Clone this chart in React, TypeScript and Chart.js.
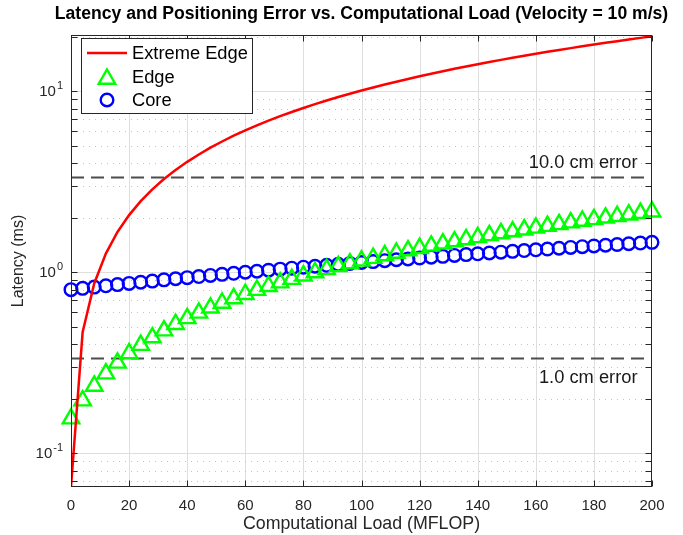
import React, { useEffect, useRef } from 'react';
import { Chart, registerables } from 'chart.js';

Chart.register(...registerables);

const titleText = 'Latency and Positioning Error vs. Computational Load (Velocity = 10 m/s)';
const xTitle = 'Computational Load (MFLOP)';
const yTitle = 'Latency (ms)';
const seriesNames = ['Extreme Edge', 'Edge', 'Core'];

const loads = [0, 4, 8, 12, 16, 20, 24, 28, 32, 36, 40, 44, 48, 52, 56, 60, 64, 68, 72, 76, 80, 84, 88, 92, 96, 100, 104, 108, 112, 116, 120, 124, 128, 132, 136, 140, 144, 148, 152, 156, 160, 164, 168, 172, 176, 180, 184, 188, 192, 196, 200];

const extremeEdge = [0.065, 0.465, 0.865, 1.265, 1.665, 2.065, 2.465, 2.865, 3.265, 3.665, 4.065, 4.465, 4.865, 5.265, 5.665, 6.065, 6.465, 6.865, 7.265, 7.665, 8.065, 8.465, 8.865, 9.265, 9.665, 10.065, 10.465, 10.865, 11.265, 11.665, 12.065, 12.465, 12.865, 13.265, 13.665, 14.065, 14.465, 14.865, 15.265, 15.665, 16.065, 16.465, 16.865, 17.265, 17.665, 18.065, 18.465, 18.865, 19.265, 19.665, 20.065];

const edge = [0.155, 0.195, 0.235, 0.275, 0.315, 0.355, 0.395, 0.435, 0.475, 0.515, 0.555, 0.595, 0.635, 0.675, 0.715, 0.755, 0.795, 0.835, 0.875, 0.915, 0.955, 0.995, 1.035, 1.075, 1.115, 1.155, 1.195, 1.235, 1.275, 1.315, 1.355, 1.395, 1.435, 1.475, 1.515, 1.555, 1.595, 1.635, 1.675, 1.715, 1.755, 1.795, 1.835, 1.875, 1.915, 1.955, 1.995, 2.035, 2.075, 2.115, 2.155];

const core = [0.800, 0.813, 0.826, 0.840, 0.853, 0.866, 0.879, 0.892, 0.906, 0.919, 0.932, 0.945, 0.958, 0.972, 0.985, 0.998, 1.011, 1.024, 1.038, 1.051, 1.064, 1.077, 1.090, 1.104, 1.117, 1.130, 1.143, 1.156, 1.170, 1.183, 1.196, 1.209, 1.222, 1.236, 1.249, 1.262, 1.275, 1.288, 1.302, 1.315, 1.328, 1.341, 1.354, 1.368, 1.381, 1.394, 1.407, 1.420, 1.434, 1.447, 1.460];

const thresholdValues = [0.333, 3.333];
const thresholdLabels = ['1.0 cm error', '10.0 cm error'];
const thresholdLabelY = [0.26, 4.0];
const thresholdLabelX = 195;

const xTicks = [0, 20, 40, 60, 80, 100, 120, 140, 160, 180, 200];
const yDecades = [0.1, 1, 10];
const yDecadeExponents = ['-1', '0', '1'];
const yMinor = [0.07, 0.08, 0.09, 0.2, 0.3, 0.4, 0.5, 0.6, 0.7, 0.8, 0.9, 2, 3, 4, 5, 6, 7, 8, 9, 20];

const X_MIN = 0;
const X_MAX = 200;
const Y_MIN = 0.065;
const Y_MAX = 20.4;

const FONT = '"Liberation Sans", Arial, Helvetica, sans-serif';
const AXIS = '#262626';
const RED = '#ff0000';
const GREEN = '#00ff00';
const BLUE = '#0000ff';
const DASH = '#4d4d4d';

const TRI_R = 9.5;
const CIRC_R = 6.3;
const MARK_W = 2.4;

function hline(ctx: CanvasRenderingContext2D, x1: number, x2: number, y: number) {
  ctx.beginPath();
  ctx.moveTo(x1, y);
  ctx.lineTo(x2, y);
  ctx.stroke();
}
function vline(ctx: CanvasRenderingContext2D, x: number, y1: number, y2: number) {
  ctx.beginPath();
  ctx.moveTo(x, y1);
  ctx.lineTo(x, y2);
  ctx.stroke();
}
function triangle(ctx: CanvasRenderingContext2D, cx: number, cy: number, r: number) {
  let rad = 0;
  ctx.beginPath();
  ctx.moveTo(cx + Math.sin(rad) * r, cy - Math.cos(rad) * r);
  rad += (2 * Math.PI) / 3;
  ctx.lineTo(cx + Math.sin(rad) * r, cy - Math.cos(rad) * r);
  rad += (2 * Math.PI) / 3;
  ctx.lineTo(cx + Math.sin(rad) * r, cy - Math.cos(rad) * r);
  ctx.closePath();
  ctx.stroke();
}

const decor = {
  id: 'decor',
  beforeDatasetsDraw(chart: any) {
    const { ctx, chartArea: a, scales } = chart;
    const x = scales.x;
    const y = scales.y;
    ctx.save();
    ctx.lineWidth = 1;
    ctx.strokeStyle = '#dedede';
    ctx.setLineDash([]);
    for (const v of xTicks) {
      if (v <= X_MIN || v >= X_MAX) continue;
      const px = Math.round(x.getPixelForValue(v)) + 0.5;
      vline(ctx, px, a.top, a.bottom);
    }
    for (const v of yDecades) {
      const py = Math.round(y.getPixelForValue(v)) + 0.5;
      hline(ctx, a.left, a.right, py);
    }
    ctx.strokeStyle = '#c4c4c4';
    ctx.setLineDash([1, 5]);
    for (const v of yMinor) {
      if (v <= Y_MIN || v >= Y_MAX) continue;
      const py = Math.round(y.getPixelForValue(v)) + 0.5;
      hline(ctx, a.left, a.right, py);
    }
    ctx.restore();
  },
  afterDatasetsDraw(chart: any) {
    const { ctx, chartArea: a, scales } = chart;
    const x = scales.x;
    const y = scales.y;
    const L = Math.round(a.left) + 0.5;
    const R = Math.round(a.right) - 0.5;
    const T = Math.round(a.top) + 0.5;
    const B = Math.round(a.bottom) - 0.5;
    const tl = 6;
    ctx.save();
    ctx.strokeStyle = AXIS;
    ctx.lineWidth = 1;
    ctx.setLineDash([]);
    for (const v of xTicks) {
      const px = Math.round(x.getPixelForValue(v)) + 0.5;
      vline(ctx, px, B, B - tl);
      vline(ctx, px, T, T + tl);
    }
    for (const v of [...yDecades, ...yMinor]) {
      if (v < Y_MIN || v > Y_MAX) continue;
      const py = Math.round(y.getPixelForValue(v)) + 0.5;
      hline(ctx, L, L + tl, py);
      hline(ctx, R, R - tl, py);
    }
    ctx.strokeRect(L, T, R - L, B - T);
    ctx.restore();
  },
  afterDraw(chart: any) {
    const { ctx, chartArea: a, scales } = chart;
    const x = scales.x;
    const y = scales.y;
    ctx.save();
    // y tick labels with superscript exponents
    ctx.fillStyle = AXIS;
    for (let i = 0; i < yDecades.length; i++) {
      const py = y.getPixelForValue(yDecades[i]);
      ctx.font = `15px ${FONT}`;
      const bw = ctx.measureText('10').width;
      ctx.font = `11px ${FONT}`;
      const ew = ctx.measureText(yDecadeExponents[i]).width;
      const right = a.left - 8;
      const bx = right - ew - bw - 1;
      ctx.textAlign = 'left';
      ctx.textBaseline = 'middle';
      ctx.font = `15px ${FONT}`;
      ctx.fillText('10', bx, py + 1);
      ctx.textBaseline = 'alphabetic';
      ctx.font = `11px ${FONT}`;
      ctx.fillText(yDecadeExponents[i], bx + bw + 1, py - 2);
    }
    // title
    ctx.fillStyle = '#000000';
    ctx.font = `bold 17.6px ${FONT}`;
    ctx.textAlign = 'center';
    ctx.textBaseline = 'middle';
    ctx.fillText(titleText, (a.left + a.right) / 2, 14);
    // threshold annotations
    ctx.font = `18.3px ${FONT}`;
    ctx.fillStyle = '#1a1a1a';
    ctx.textAlign = 'right';
    for (let i = 0; i < thresholdLabels.length; i++) {
      ctx.fillText(thresholdLabels[i], x.getPixelForValue(thresholdLabelX), y.getPixelForValue(thresholdLabelY[i]));
    }
    // legend
    const lx = Math.round(a.left) + 10.5;
    const ly = Math.round(a.top) + 3.5;
    const lw = 171;
    const lh = 75;
    ctx.fillStyle = '#ffffff';
    ctx.fillRect(lx, ly, lw, lh);
    ctx.strokeStyle = AXIS;
    ctx.lineWidth = 1;
    ctx.strokeRect(lx, ly, lw, lh);
    const rows = [ly + 14.5, ly + 38.5, ly + 61.5];
    const symX = lx + 25.5;
    ctx.lineWidth = 2.5;
    ctx.strokeStyle = RED;
    hline(ctx, lx + 5.5, lx + 45.5, rows[0]);
    ctx.lineWidth = MARK_W;
    ctx.strokeStyle = GREEN;
    triangle(ctx, symX, rows[1] + 2, TRI_R);
    ctx.strokeStyle = BLUE;
    ctx.beginPath();
    ctx.arc(symX, rows[2], CIRC_R, 0, Math.PI * 2);
    ctx.stroke();
    ctx.fillStyle = '#000000';
    ctx.font = `18.3px ${FONT}`;
    ctx.textAlign = 'left';
    ctx.textBaseline = 'middle';
    for (let i = 0; i < seriesNames.length; i++) {
      ctx.fillText(seriesNames[i], lx + 50.5, rows[i] + 1);
    }
    ctx.restore();
  },
};

export default function App() {
  const ref = useRef<HTMLCanvasElement | null>(null);
  useEffect(() => {
    document.body.style.margin = '0';
    const canvas = ref.current;
    if (!canvas) return;
    const pts = (vals: number[]) => loads.map((l, i) => ({ x: l, y: vals[i] }));
    const chart = new Chart(canvas, {
      type: 'line',
      data: {
        datasets: [
          {
            label: seriesNames[0],
            data: pts(extremeEdge),
            borderColor: RED,
            borderWidth: 2.5,
            pointRadius: 0,
            fill: false,
            tension: 0,
          },
          {
            label: seriesNames[1],
            data: pts(edge),
            showLine: false,
            pointStyle: 'triangle',
            pointRadius: TRI_R,
            pointBorderColor: GREEN,
            pointBackgroundColor: 'rgba(0,0,0,0)',
            pointBorderWidth: MARK_W,
            borderColor: GREEN,
            clip: false,
          },
          {
            label: seriesNames[2],
            data: pts(core),
            showLine: false,
            pointStyle: 'circle',
            pointRadius: CIRC_R,
            pointBorderColor: BLUE,
            pointBackgroundColor: 'rgba(0,0,0,0)',
            pointBorderWidth: MARK_W,
            borderColor: BLUE,
            clip: false,
          },
          ...thresholdValues.map((v, i) => ({
            label: thresholdLabels[i],
            data: [
              { x: X_MIN, y: v },
              { x: X_MAX, y: v },
            ],
            borderColor: DASH,
            borderWidth: 2,
            borderDash: [13, 7],
            pointRadius: 0,
            fill: false,
          })),
        ] as any,
      },
      options: {
        responsive: false,
        animation: false,
        devicePixelRatio: 1,
        layout: { padding: { top: 35, right: 31, left: 9, bottom: 0 } },
        plugins: {
          legend: { display: false },
          tooltip: { enabled: false },
          title: { display: false },
        },
        scales: {
          x: {
            type: 'linear',
            min: X_MIN,
            max: X_MAX,
            ticks: {
              stepSize: 20,
              autoSkip: false,
              maxRotation: 0,
              padding: 10,
              color: AXIS,
              font: { size: 15, family: FONT },
            },
            grid: { display: false, drawTicks: false },
            border: { display: false },
            title: {
              display: true,
              text: xTitle,
              color: AXIS,
              padding: 0,
              font: { size: 17.8, family: FONT },
            },
            afterFit: (s: any) => {
              s.height = 48;
            },
          },
          y: {
            type: 'logarithmic',
            min: Y_MIN,
            max: Y_MAX,
            ticks: { display: false },
            grid: { display: false, drawTicks: false },
            border: { display: false },
            title: {
              display: true,
              text: yTitle,
              color: AXIS,
              padding: 0,
              font: { size: 16, family: FONT },
            },
            afterFit: (s: any) => {
              s.width = 62;
            },
          },
        },
      } as any,
      plugins: [decor],
    });
    return () => chart.destroy();
  }, []);
  return <canvas ref={ref} width={683} height={535} style={{ display: 'block' }} />;
}
